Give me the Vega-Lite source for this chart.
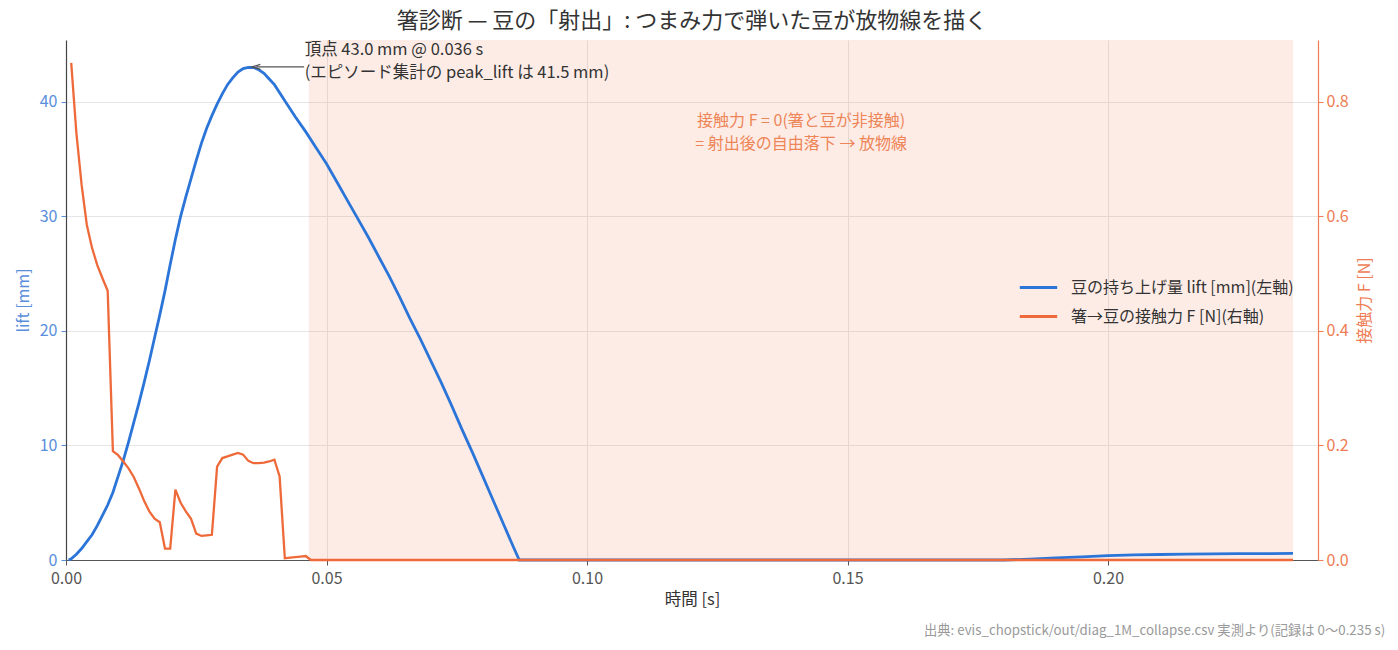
{
  "$schema": "https://vega.github.io/schema/vega-lite/v6.json",
  "width": 1252,
  "height": 520,
  "autosize": {"type": "none"},
  "padding": {"left": 66, "top": 40, "right": 80, "bottom": 90},
  "title": {
    "text": "箸診断 — 豆の「射出」: つまみ力で弾いた豆が放物線を描く",
    "fontSize": 22,
    "fontWeight": "normal",
    "color": "#333333",
    "anchor": "middle",
    "offset": 7
  },
  "datasets": {
    "lift": [
      {"t": 0.0005, "v": 0.0}, {"t": 0.001, "v": 0.1}, {"t": 0.002, "v": 0.5}, {"t": 0.003, "v": 1.0},
      {"t": 0.004, "v": 1.6}, {"t": 0.005, "v": 2.2}, {"t": 0.006, "v": 3.0},
      {"t": 0.007, "v": 3.9}, {"t": 0.008, "v": 4.8}, {"t": 0.009, "v": 5.9},
      {"t": 0.010, "v": 7.3}, {"t": 0.011, "v": 8.7}, {"t": 0.012, "v": 10.3},
      {"t": 0.013, "v": 12.0}, {"t": 0.014, "v": 13.7}, {"t": 0.015, "v": 15.5},
      {"t": 0.016, "v": 17.4}, {"t": 0.017, "v": 19.4}, {"t": 0.018, "v": 21.4},
      {"t": 0.019, "v": 23.5}, {"t": 0.020, "v": 25.8}, {"t": 0.021, "v": 28.0},
      {"t": 0.022, "v": 30.0}, {"t": 0.023, "v": 31.7}, {"t": 0.024, "v": 33.3},
      {"t": 0.025, "v": 34.9}, {"t": 0.026, "v": 36.4}, {"t": 0.027, "v": 37.7},
      {"t": 0.028, "v": 38.8}, {"t": 0.029, "v": 39.8}, {"t": 0.030, "v": 40.7},
      {"t": 0.031, "v": 41.5}, {"t": 0.032, "v": 42.1}, {"t": 0.033, "v": 42.6},
      {"t": 0.034, "v": 42.9}, {"t": 0.035, "v": 43.0}, {"t": 0.036, "v": 43.0},
      {"t": 0.037, "v": 42.8}, {"t": 0.038, "v": 42.5}, {"t": 0.039, "v": 42.0},
      {"t": 0.040, "v": 41.5}, {"t": 0.042, "v": 40.1}, {"t": 0.044, "v": 38.7},
      {"t": 0.046, "v": 37.4}, {"t": 0.048, "v": 36.0}, {"t": 0.050, "v": 34.6},
      {"t": 0.052, "v": 33.0}, {"t": 0.054, "v": 31.4}, {"t": 0.056, "v": 29.8},
      {"t": 0.058, "v": 28.2}, {"t": 0.060, "v": 26.5}, {"t": 0.062, "v": 24.8},
      {"t": 0.064, "v": 23.0}, {"t": 0.066, "v": 21.1}, {"t": 0.068, "v": 19.3},
      {"t": 0.070, "v": 17.4}, {"t": 0.072, "v": 15.5}, {"t": 0.074, "v": 13.5},
      {"t": 0.076, "v": 11.4}, {"t": 0.078, "v": 9.4}, {"t": 0.080, "v": 7.3},
      {"t": 0.082, "v": 5.2}, {"t": 0.084, "v": 3.1}, {"t": 0.086, "v": 1.0},
      {"t": 0.087, "v": 0.0}, {"t": 0.120, "v": 0.0}, {"t": 0.150, "v": 0.0},
      {"t": 0.180, "v": 0.0}, {"t": 0.185, "v": 0.08}, {"t": 0.190, "v": 0.18},
      {"t": 0.195, "v": 0.28}, {"t": 0.200, "v": 0.38}, {"t": 0.205, "v": 0.44},
      {"t": 0.210, "v": 0.48}, {"t": 0.215, "v": 0.51}, {"t": 0.220, "v": 0.53},
      {"t": 0.225, "v": 0.55}, {"t": 0.230, "v": 0.56}, {"t": 0.2355, "v": 0.57}
    ],
    "force": [
      {"t": 0.001, "v": 0.868}, {"t": 0.002, "v": 0.745}, {"t": 0.003, "v": 0.655},
      {"t": 0.004, "v": 0.585}, {"t": 0.005, "v": 0.545}, {"t": 0.006, "v": 0.515},
      {"t": 0.007, "v": 0.492}, {"t": 0.008, "v": 0.470}, {"t": 0.009, "v": 0.190},
      {"t": 0.010, "v": 0.183}, {"t": 0.011, "v": 0.172}, {"t": 0.012, "v": 0.160},
      {"t": 0.013, "v": 0.145}, {"t": 0.014, "v": 0.125}, {"t": 0.015, "v": 0.103},
      {"t": 0.016, "v": 0.085}, {"t": 0.017, "v": 0.072}, {"t": 0.018, "v": 0.066},
      {"t": 0.019, "v": 0.020}, {"t": 0.020, "v": 0.020}, {"t": 0.021, "v": 0.123},
      {"t": 0.022, "v": 0.100}, {"t": 0.023, "v": 0.085}, {"t": 0.024, "v": 0.072},
      {"t": 0.025, "v": 0.046}, {"t": 0.026, "v": 0.042}, {"t": 0.027, "v": 0.043},
      {"t": 0.028, "v": 0.044}, {"t": 0.029, "v": 0.163}, {"t": 0.030, "v": 0.178},
      {"t": 0.031, "v": 0.181}, {"t": 0.032, "v": 0.184}, {"t": 0.033, "v": 0.187},
      {"t": 0.034, "v": 0.184}, {"t": 0.035, "v": 0.173}, {"t": 0.036, "v": 0.169},
      {"t": 0.037, "v": 0.169}, {"t": 0.038, "v": 0.170}, {"t": 0.039, "v": 0.172},
      {"t": 0.040, "v": 0.175}, {"t": 0.041, "v": 0.146}, {"t": 0.042, "v": 0.003},
      {"t": 0.043, "v": 0.004}, {"t": 0.044, "v": 0.005}, {"t": 0.045, "v": 0.006},
      {"t": 0.046, "v": 0.007}, {"t": 0.047, "v": 0.0}, {"t": 0.100, "v": 0.0},
      {"t": 0.150, "v": 0.0}, {"t": 0.200, "v": 0.0}, {"t": 0.2355, "v": 0.0}
    ],
    "span": [{"t0": 0.0466, "t1": 0.2355}],
    "peak": [{"t": 0.0365, "t2": 0.0457, "v": 43.05}],
    "notes": [
      {"t": 0.0458, "v": 44.5, "label": "頂点 43.0 mm @ 0.036 s"},
      {"t": 0.0458, "v": 42.55, "label": "(エピソード集計の peak_lift は 41.5 mm)"}
    ],
    "zone": [
      {"t": 0.1411, "v": 38.35, "label": "接触力 F = 0(箸と豆が非接触)"},
      {"t": 0.1411, "v": 36.35, "label": "= 射出後の自由落下 → 放物線"}
    ],
    "source": [
      {"t": 0.2532, "v": -6.2, "label": "出典: evis_chopstick/out/diag_1M_collapse.csv 実測より(記録は 0〜0.235 s)"}
    ]
  },
  "encoding": {
    "x": {
      "field": "t",
      "type": "quantitative",
      "scale": {"domain": [0, 0.2403], "nice": false, "zero": false},
      "axis": {
        "title": "時間 [s]",
        "values": [0, 0.05, 0.1, 0.15, 0.2],
        "format": ".2f",
        "labelFlush": false,
        "grid": true,
        "gridColor": "#e6e6e6",
        "domainColor": "#555555",
        "tickColor": "#555555",
        "labelColor": "#555555",
        "labelFontSize": 16,
        "labelPadding": 5,
        "titleFontSize": 16.5,
        "titleFontWeight": "normal",
        "titleColor": "#333333",
        "titlePadding": 5
      }
    }
  },
  "layer": [
    {
      "data": {"name": "span"},
      "mark": {"type": "rect", "color": "#EE6A3A", "opacity": 0.13},
      "encoding": {
        "x": {"field": "t0", "type": "quantitative"},
        "x2": {"field": "t1"}
      }
    },
    {
      "data": {"name": "lift"},
      "mark": {"type": "line", "strokeWidth": 2.8},
      "encoding": {
        "y": {
          "field": "v",
          "type": "quantitative",
          "scale": {"domain": [0, 45.4], "nice": false},
          "axis": {
            "title": "lift [mm]",
            "orient": "left",
            "values": [0, 10, 20, 30, 40],
            "grid": true,
            "gridColor": "#e6e6e6",
            "domainColor": "#444444",
            "tickColor": "#5A8EDB",
            "labelColor": "#5A8EDB",
            "titleColor": "#5A8EDB",
            "labelFontSize": 16,
            "labelPadding": 4,
            "titleFontSize": 16,
            "titleFontWeight": "normal",
            "titlePadding": 8
          }
        },
        "color": {"datum": "豆の持ち上げ量 lift [mm](左軸)"}
      }
    },
    {
      "data": {"name": "force"},
      "mark": {"type": "line", "strokeWidth": 2.3},
      "encoding": {
        "y": {
          "field": "v",
          "type": "quantitative",
          "scale": {"domain": [0, 0.908], "nice": false},
          "axis": {
            "title": "接触力 F [N]",
            "orient": "right",
            "values": [0, 0.2, 0.4, 0.6, 0.8],
            "format": ".1f",
            "grid": false,
            "domainColor": "#EE7C54",
            "tickColor": "#EE7C54",
            "labelColor": "#EE7C54",
            "titleColor": "#EE7C54",
            "labelFontSize": 16,
            "titleFontSize": 16,
            "titleFontWeight": "normal",
            "titleAngle": -90,
            "titlePadding": 24
          }
        },
        "color": {"datum": "箸→豆の接触力 F [N](右軸)"}
      }
    },
    {
      "data": {"name": "peak"},
      "mark": {"type": "rule", "color": "#555555", "strokeWidth": 1.3},
      "encoding": {
        "x": {"field": "t", "type": "quantitative"},
        "x2": {"field": "t2"},
        "y": {"field": "v", "type": "quantitative", "scale": {"domain": [0, 45.4], "nice": false}, "axis": null}
      }
    },
    {
      "data": {"name": "peak"},
      "mark": {"type": "point", "shape": "M1,-0.6L-1,0L1,0.6", "filled": false, "stroke": "#555555", "strokeWidth": 1.3, "size": 70, "opacity": 1},
      "encoding": {
        "x": {"field": "t", "type": "quantitative"},
        "y": {"field": "v", "type": "quantitative", "scale": {"domain": [0, 45.4], "nice": false}, "axis": null}
      }
    },
    {
      "data": {"name": "notes"},
      "mark": {"type": "text", "align": "left", "baseline": "middle", "fontSize": 16.5, "color": "#333333"},
      "encoding": {
        "x": {"field": "t", "type": "quantitative"},
        "y": {"field": "v", "type": "quantitative", "scale": {"domain": [0, 45.4], "nice": false}, "axis": null},
        "text": {"field": "label"}
      }
    },
    {
      "data": {"name": "zone"},
      "mark": {"type": "text", "align": "center", "baseline": "middle", "fontSize": 16, "color": "#EE8557"},
      "encoding": {
        "x": {"field": "t", "type": "quantitative"},
        "y": {"field": "v", "type": "quantitative", "scale": {"domain": [0, 45.4], "nice": false}, "axis": null},
        "text": {"field": "label"}
      }
    },
    {
      "data": {"name": "source"},
      "mark": {"type": "text", "align": "right", "baseline": "middle", "fontSize": 13.3, "color": "#999999"},
      "encoding": {
        "x": {"field": "t", "type": "quantitative"},
        "y": {"field": "v", "type": "quantitative", "scale": {"domain": [0, 45.4], "nice": false}, "axis": null},
        "text": {"field": "label"}
      }
    }
  ],
  "resolve": {"scale": {"y": "independent"}},
  "config": {
    "font": "Noto Sans CJK JP",
    "view": {"stroke": null},
    "axis": {"tickSize": 5, "labelPadding": 3, "domainWidth": 1.2},
    "range": {"category": ["#2C75D8", "#EE6A3A"]},
    "legend": {
      "orient": "none",
      "legendX": 952,
      "legendY": 227,
      "title": null,
      "symbolType": "stroke",
      "symbolSize": 1400,
      "symbolStrokeWidth": 2.8,
      "labelFontSize": 16,
      "labelLimit": 0,
      "labelColor": "#333333",
      "labelOffset": 12,
      "rowPadding": -14
    }
  }
}
